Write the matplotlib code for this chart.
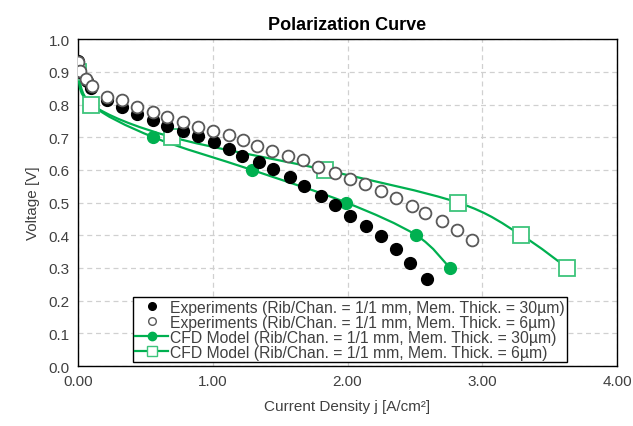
import matplotlib
matplotlib.use("Agg")
import matplotlib.pyplot as plt
from matplotlib.path import Path
from matplotlib.patches import PathPatch
from matplotlib.lines import Line2D

plt.rcParams['font.family'] = ['Liberation Sans', 'DejaVu Sans']

# ---- data ----
exp30_j = [0.00, 0.015, 0.065, 0.10, 0.213, 0.324, 0.435, 0.554, 0.66, 0.78, 0.89, 1.01,
           1.12, 1.22, 1.34, 1.45, 1.57, 1.68, 1.80, 1.91, 2.02, 2.14, 2.25, 2.36, 2.46, 2.59]
exp30_v = [0.933, 0.898, 0.872, 0.849, 0.813, 0.791, 0.771, 0.753, 0.735, 0.720, 0.703, 0.686,
           0.664, 0.643, 0.623, 0.602, 0.578, 0.551, 0.521, 0.492, 0.460, 0.428, 0.398, 0.358,
           0.315, 0.266]

exp6_j = [0.00, 0.015, 0.059, 0.102, 0.213, 0.324, 0.435, 0.554, 0.663, 0.782, 0.893, 1.004,
          1.121, 1.224, 1.329, 1.438, 1.559, 1.67, 1.781, 1.904, 2.019, 2.13, 2.245, 2.362,
          2.476, 2.575, 2.699, 2.81, 2.922]
exp6_v = [0.929, 0.901, 0.878, 0.857, 0.822, 0.813, 0.791, 0.776, 0.761, 0.745, 0.730, 0.720,
          0.707, 0.692, 0.674, 0.659, 0.641, 0.629, 0.609, 0.592, 0.572, 0.557, 0.536, 0.514,
          0.488, 0.467, 0.444, 0.416, 0.385]

cfd30_j = [0.00, 0.10, 0.56, 1.29, 1.99, 2.51, 2.76]
cfd30_v = [0.90, 0.80, 0.70, 0.60, 0.50, 0.40, 0.30]

cfd6_j = [0.00, 0.10, 0.70, 1.83, 2.82, 3.29, 3.63]
cfd6_v = [0.90, 0.80, 0.70, 0.60, 0.50, 0.40, 0.30]

x_ticks = [0, 1, 2, 3, 4]
x_ticklabels = ["0.00", "1.00", "2.00", "3.00", "4.00"]
y_ticks = [0.0, 0.1, 0.2, 0.3, 0.4, 0.5, 0.6, 0.7, 0.8, 0.9, 1.0]
y_ticklabels = ["0.0", "0.1", "0.2", "0.3", "0.4", "0.5", "0.6", "0.7", "0.8", "0.9", "1.0"]

labels = [
    "Experiments (Rib/Chan. = 1/1 mm, Mem. Thick. = 30\u00b5m)",
    "Experiments (Rib/Chan. = 1/1 mm, Mem. Thick. = 6\u00b5m)",
    "CFD Model (Rib/Chan. = 1/1 mm, Mem. Thick. = 30\u00b5m)",
    "CFD Model (Rib/Chan. = 1/1 mm, Mem. Thick. = 6\u00b5m)",
]

GREEN = '#00B050'
SQ_EDGE = '#3DC47B'


def smooth_path(xs, ys):
    """Excel-like smoothed line: cubic Bezier through the data points."""
    pts = list(zip(xs, ys))
    n = len(pts)
    verts = [pts[0]]
    codes = [Path.MOVETO]
    for i in range(n - 1):
        p0 = pts[i - 1] if i > 0 else pts[i]
        p1 = pts[i]
        p2 = pts[i + 1]
        p3 = pts[i + 2] if i + 2 < n else pts[i + 1]
        c1 = (p1[0] + (p2[0] - p0[0]) / 6.0, p1[1] + (p2[1] - p0[1]) / 6.0)
        c2 = (p2[0] - (p3[0] - p1[0]) / 6.0, p2[1] - (p3[1] - p1[1]) / 6.0)
        verts += [c1, c2, p2]
        codes += [Path.CURVE4] * 3
    return Path(verts, codes)


fig = plt.figure(figsize=(6.33, 4.27), dpi=100)
ax = fig.add_axes([0.123, 0.1405, 0.852, 0.7655])

ax.set_xlim(0, 4)
ax.set_ylim(0, 1.0)
ax.set_xticks(x_ticks)
ax.set_xticklabels(x_ticklabels)
ax.set_yticks(y_ticks)
ax.set_yticklabels(y_ticklabels)
ax.tick_params(length=0, labelsize=11, colors='#404040', pad=6)
ax.grid(True, linestyle=(0, (4, 3)), color='#D0D0D0', linewidth=0.9)
ax.set_axisbelow(True)
for s in ax.spines.values():
    s.set_color('#000000')
    s.set_linewidth(1.0)

# CFD smoothed lines
for xs, ys in ((cfd30_j, cfd30_v), (cfd6_j, cfd6_v)):
    patch = PathPatch(smooth_path(xs, ys), facecolor='none', edgecolor=GREEN,
                      linewidth=1.6, zorder=3)
    ax.add_patch(patch)

ax.plot(cfd30_j, cfd30_v, linestyle='none', marker='o', markersize=8.5,
        markerfacecolor=GREEN, markeredgecolor=GREEN, zorder=4)
ax.plot(cfd6_j, cfd6_v, linestyle='none', marker='s', markersize=11,
        markerfacecolor='white', markeredgecolor=SQ_EDGE, markeredgewidth=1.3, zorder=4)

# Experiments
ax.plot(exp30_j, exp30_v, linestyle='none', marker='o', markersize=8.5,
        markerfacecolor='black', markeredgecolor='black', zorder=5)
ax.plot(exp6_j, exp6_v, linestyle='none', marker='o', markersize=8.5,
        markerfacecolor='white', markeredgecolor='#595959', markeredgewidth=1.3, zorder=6)

ax.set_title("Polarization Curve", fontsize=13, fontweight='bold', pad=7)
ax.set_xlabel("Current Density j [A/cm\u00b2]", fontsize=11, color='#404040', labelpad=8)
ax.set_ylabel("Voltage [V]", fontsize=11, color='#404040', labelpad=6)

handles = [
    Line2D([], [], linestyle='none', marker='o', markersize=5.5,
           markerfacecolor='black', markeredgecolor='black'),
    Line2D([], [], linestyle='none', marker='o', markersize=5.5,
           markerfacecolor='white', markeredgecolor='#595959'),
    Line2D([], [], color=GREEN, linewidth=1.6, marker='o', markersize=6,
           markerfacecolor=GREEN, markeredgecolor=GREEN),
    Line2D([], [], color=GREEN, linewidth=1.6, marker='s', markersize=6.5,
           markerfacecolor='white', markeredgecolor=SQ_EDGE),
]
leg = ax.legend(handles, labels, loc='lower left', bbox_to_anchor=(0.102, 0.012),
                fontsize=11.3, frameon=True, fancybox=False, edgecolor='black',
                framealpha=1, labelspacing=0.0, handlelength=2.1,
                handletextpad=0.1, borderpad=0.15, borderaxespad=0)
leg.get_frame().set_linewidth(1.0)
leg.set_zorder(10)
for t in leg.get_texts():
    t.set_color('#404040')

fig.savefig("out.png", dpi=100)
